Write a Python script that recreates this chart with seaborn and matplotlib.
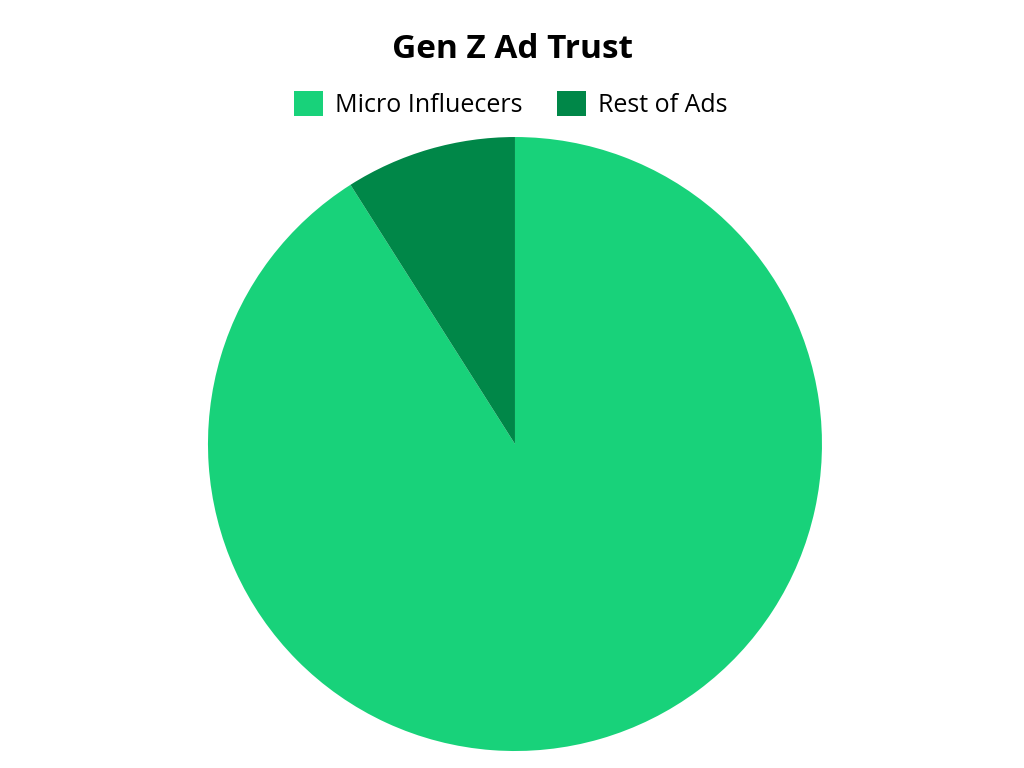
import matplotlib
matplotlib.use("Agg")
import matplotlib.pyplot as plt
import seaborn as sns

# data
labels = ["Micro Influecers", "Rest of Ads"]
shares = [91, 9]
colors = ["#18D27A", "#008748"]

sns.set_theme(style="white")
plt.rcParams["font.family"] = ["Open Sans", "DejaVu Sans"]

fig = plt.figure(figsize=(10.24, 7.68), dpi=100)
ax = fig.add_axes([0.2031, 0.0221, 0.5996, 0.7995])

wedges, _ = ax.pie(shares, colors=colors, startangle=90, counterclock=False,
                   wedgeprops=dict(linewidth=0))
ax.set_xlim(-1, 1)
ax.set_ylim(-1, 1)
ax.set_aspect("equal")
ax.axis("off")

fig.text(0.5, 0.936, "Gen Z Ad Trust", ha="center", va="center",
         fontsize=24, fontweight="bold", color="black")

fig.legend(wedges, labels, loc="center", bbox_to_anchor=(0.499, 0.864),
           ncol=2, frameon=False, fontsize=18, labelcolor="black",
           handlelength=1.16, handleheight=1.16, handletextpad=0.48,
           columnspacing=1.4)

fig.savefig("out.png", dpi=100, facecolor="white")
